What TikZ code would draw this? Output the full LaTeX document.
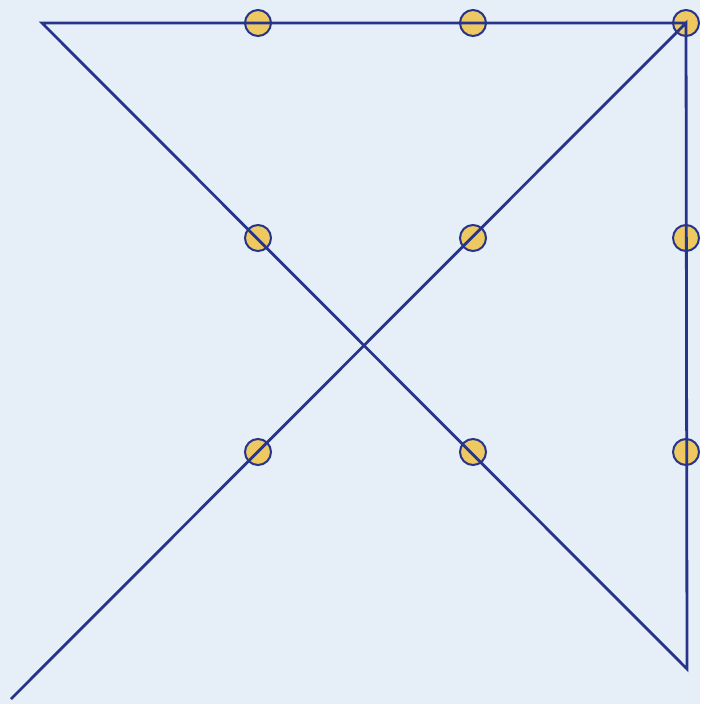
\documentclass[tikz,border=0pt]{standalone}
\usepackage{xcolor}
\usepackage{tikz}
\definecolor{backdrop}{RGB}{230, 238, 247}
\definecolor{dotfill}{RGB}{238, 200, 96}
\definecolor{linecol}{RGB}{38, 52, 140}

\begin{document}
\begin{tikzpicture}[x=0.5pt,y=-0.5pt,
    dot/.style={circle, draw=linecol, line width=1pt, fill=dotfill, minimum size=13pt, inner sep=0pt},
    cut/.style={draw=linecol, line width=1.4pt, line join=miter}]
% Background
\fill[backdrop] (0,0) rectangle (700,704);
\useasboundingbox (0,0) rectangle (700,704);
% Nine dots
\foreach \i/\x in {1/258, 2/473, 3/686} {
    \foreach \j/\y in {1/23, 2/238, 3/452} {
        \node[dot] (d\i\j) at (\x,\y) {};
    }
}
% Line ends outside the grid
\coordinate (start) at (11,699);
\coordinate (turn) at (687,669);
\coordinate (corner) at (42,23);
% Four straight lines
\draw[cut] (start) -- (d31.center) -- (turn) -- (corner) -- (d31.center);
\end{tikzpicture}
\end{document}
